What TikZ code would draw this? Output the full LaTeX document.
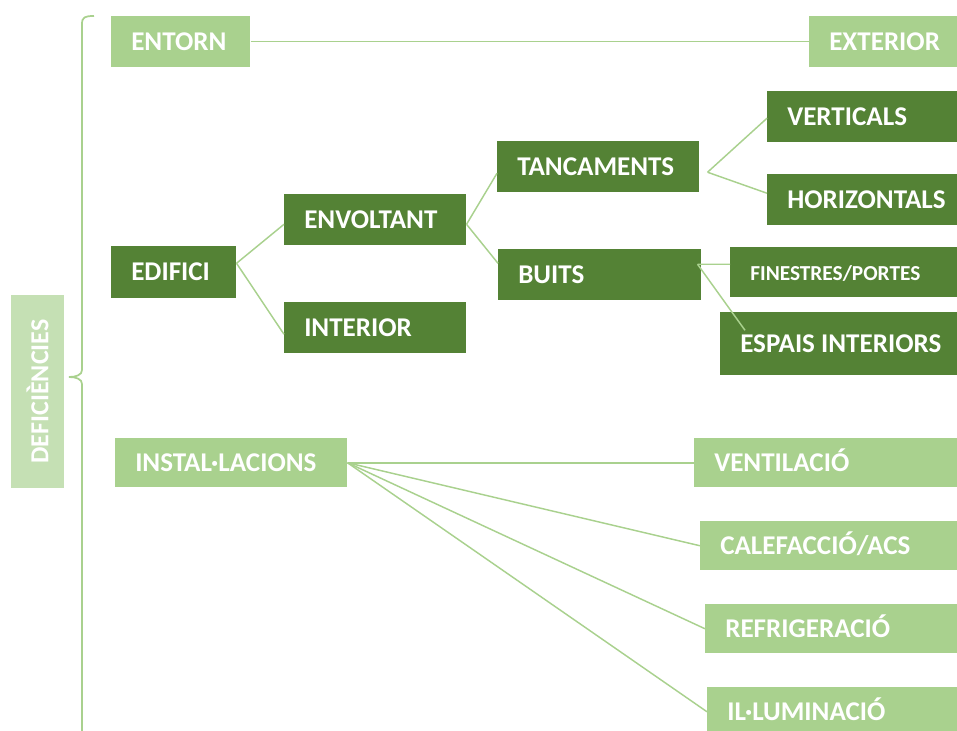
\documentclass[tikz,border=0pt]{standalone}
\usepackage{fontspec}
\setmainfont{Carlito}
\definecolor{darkleaf}{HTML}{548235}
\definecolor{lightleaf}{HTML}{A9D18E}
\definecolor{paleleaf}{HTML}{C5E0B4}

\begin{document}
\begin{tikzpicture}[x=0.75pt, y=-0.75pt,
        box/.style = {anchor=north west, align=flush left, text=white,
            font=\bfseries\fontsize{20.3}{23}\selectfont,
            inner xsep=15pt, inner ysep=0pt, text height=13pt, text depth=0pt},
        dark/.style = {box, fill=darkleaf},
        light/.style = {box, fill=lightleaf},
        side/.style = {fill=paleleaf, text=white, rotate=90,
            font=\bfseries\fontsize{19.5}{22}\selectfont,
            minimum width=144.75pt, minimum height=39.75pt},
        link/.style = {draw=lightleaf, line width=1.1pt}]
        \useasboundingbox (0,0) rectangle (957,731);
        % left side
        \node[side] (deficiencies) at (37.5,391.5) {DEFICIÈNCIES};
        \draw[lightleaf, line width=1.3pt] (94,16) .. controls (85,16) and (82,17) .. (82,24)
            -- (82,370) .. controls (82,375) and (76,377) .. (69,377)
            .. controls (76,377) and (82,379) .. (82,384) -- (82,740);
        % entorn
        \node[light, text width=74.25pt, minimum height=38.25pt] (entorn) at (111,16) {ENTORN};
        \node[light, text width=81pt, minimum height=38.25pt] (exterior) at (809,16) {EXTERIOR};
        % edifici
        \node[dark, text width=63.75pt, minimum height=39pt] (edifici) at (111,246) {EDIFICI};
        \node[dark, text width=106.5pt, minimum height=38.25pt] (envoltant) at (284,194) {ENVOLTANT};
        \node[dark, text width=106.5pt, minimum height=38.25pt] (interior) at (284,302) {INTERIOR};
        \node[dark, text width=121.5pt, minimum height=38.25pt] (tancaments) at (497,141) {TANCAMENTS};
        \node[dark, text width=122.25pt, minimum height=38.25pt] (buits) at (498,249) {BUITS};
        \node[dark, text width=112.5pt, minimum height=38.25pt] (verticals) at (767,91) {VERTICALS};
        \node[dark, text width=112.5pt, minimum height=38.25pt] (horizontals) at (767,174) {HORIZONTALS};
        \node[dark, text width=140.25pt, minimum height=37.5pt,
            font=\bfseries\fontsize{16}{19}\selectfont] (finestres) at (730,247) {FINESTRES/PORTES};
        \node[dark, text width=147.75pt, minimum height=47.25pt] (espais) at (720,312) {\mbox{ESPAIS INTERIORS}};
        % installacions
        \node[light, text width=144pt, minimum height=36.75pt] (installacions) at (115,438) {INSTAL·LACIONS};
        \node[light, text width=167.25pt, minimum height=36.75pt] (ventilacio) at (694,438) {VENTILACIÓ};
        \node[light, text width=162.75pt, minimum height=36.75pt] (calefaccio) at (700,521) {CALEFACCIÓ/ACS};
        \node[light, text width=159pt, minimum height=36.75pt] (refrigeracio) at (705,604) {REFRIGERACIÓ};
        \node[light, text width=157.5pt, minimum height=36.75pt] (illuminacio) at (707,687) {IL·LUMINACIÓ};
        % forks
        \coordinate (edifork) at ([yshift=6.75pt]edifici.east);
        \coordinate (envfork) at ([yshift=-3.4pt]envoltant.east);
        \coordinate (tanfork) at ([xshift=6pt, yshift=-4.1pt]tancaments.east);
        \coordinate (buifork) at ([xshift=-3pt, yshift=7.9pt]buits.east);
        \coordinate (espaisend) at ([xshift=18.75pt, yshift=10.1pt]espais.west);
        \path[link]
            (entorn.east) edge (exterior.west)
            (edifork) edge ([yshift=-3.4pt]envoltant.west)
            (edifork) edge ([yshift=-4.9pt]interior.west)
            (envfork) edge ([yshift=-4.9pt]tancaments.west)
            (envfork) edge ([yshift=8.6pt]buits.west)
            (tanfork) edge ([yshift=-1.1pt]verticals.west)
            (tanfork) edge ([yshift=4.9pt]horizontals.west)
            (buifork) edge ([yshift=6pt]finestres.west)
            (buifork) edge (espaisend)
            (installacions.east) edge (ventilacio.west)
            (installacions.east) edge (calefaccio.west)
            (installacions.east) edge (refrigeracio.west)
            (installacions.east) edge (illuminacio.west);
    \end{tikzpicture}
\end{document}
